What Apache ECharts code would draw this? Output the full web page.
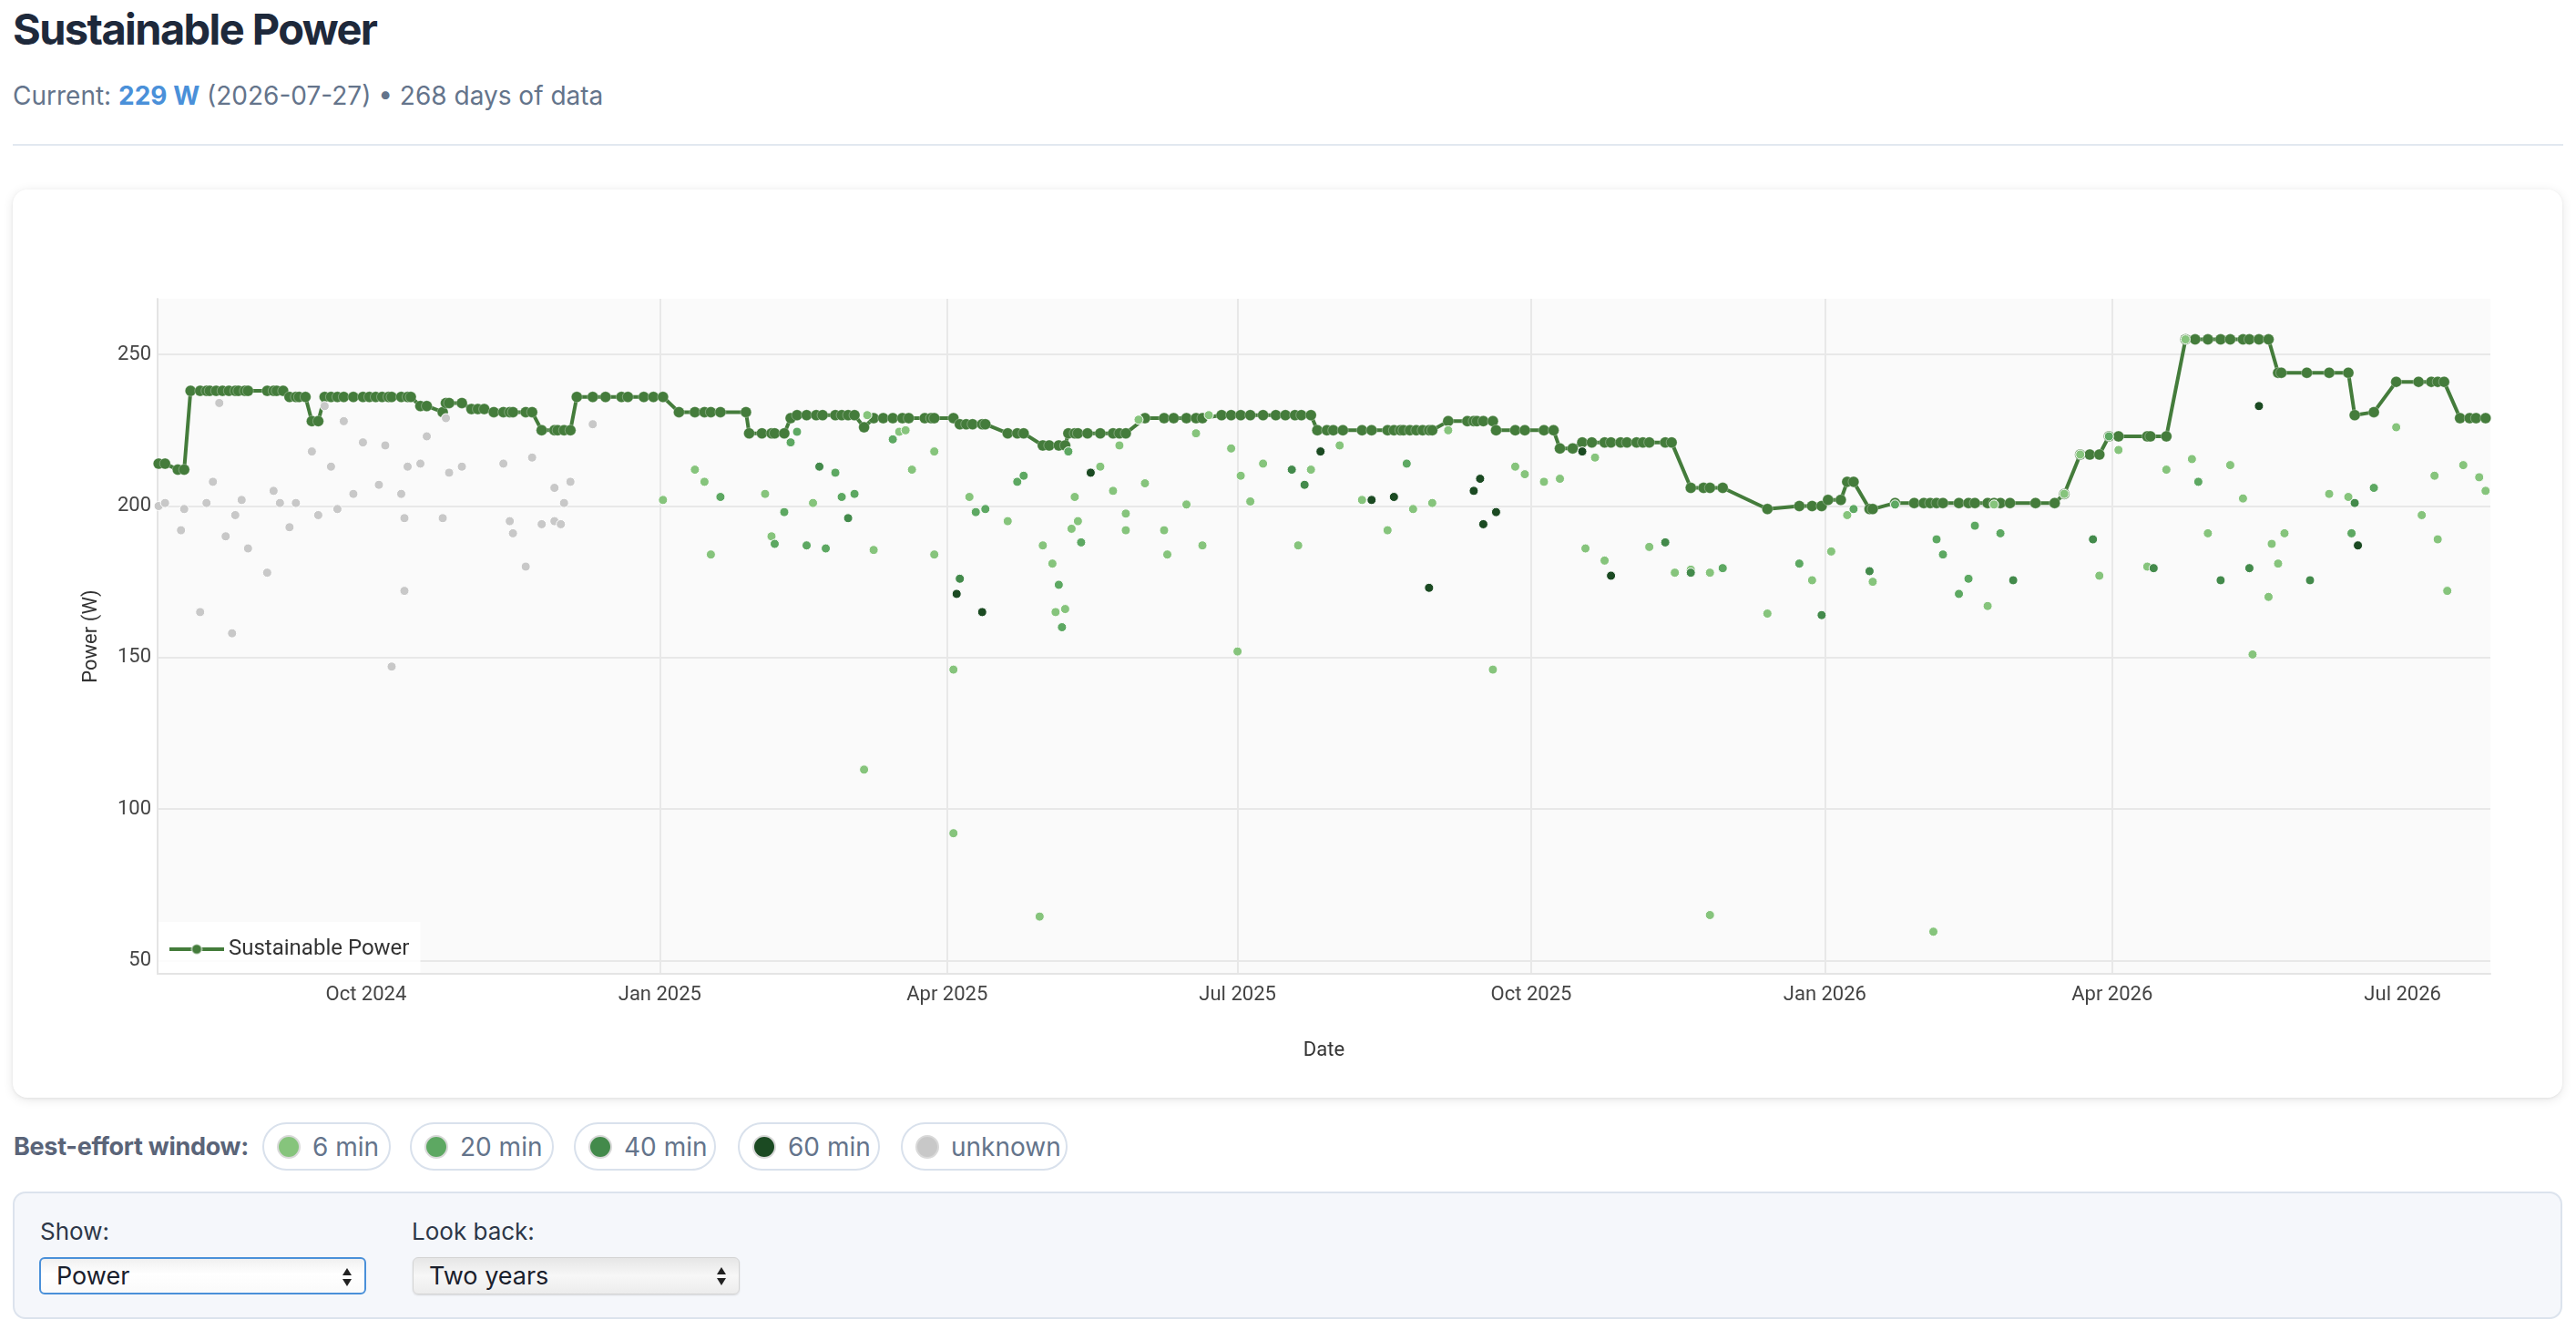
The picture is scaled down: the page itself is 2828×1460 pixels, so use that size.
<!DOCTYPE html>
<html>
<head>
<meta charset="utf-8">
<script src="https://cdn.jsdelivr.net/npm/echarts@6/dist/echarts.min.js"></script>
<style>
html,body{margin:0;padding:0;background:#fff;width:2828px;height:1460px;overflow:hidden;font-family:Inter,'Noto Sans',sans-serif;}
.abs{position:absolute;}
#title{left:14px;top:5px;margin:0;font-size:47px;line-height:54px;font-weight:700;color:#1e293b;letter-spacing:-1.6px;white-space:nowrap;}
#sub{left:14px;top:88px;font-size:28px;line-height:34px;color:#64748b;white-space:nowrap;}
#sub b{color:#4a90d9;font-weight:700;}
#rule{left:14px;top:158px;width:2800px;height:2px;background:#e2e8f0;}
#card{left:14px;top:208px;width:2799px;height:997px;background:#fff;border-radius:16px;box-shadow:0 2px 12px rgba(0,0,0,0.10),0 1px 3px rgba(0,0,0,0.06);}
#chart{position:absolute;left:0;top:0;width:2799px;height:997px;}
#chipLbl{left:15px;top:1242px;font-size:27px;line-height:34px;font-weight:700;color:#5a6478;letter-spacing:-0.3px;white-space:nowrap;}
.chip{position:absolute;top:1232px;box-sizing:border-box;height:53px;border:2px solid #d9e1ec;border-radius:27px;background:#fff;display:flex;align-items:center;padding:0 0 0 14px;font-size:28px;color:#64748b;white-space:nowrap;}
.chip i{display:inline-block;width:22px;height:22px;border-radius:50%;border:2px solid #d9d9d9;margin-right:13px;}
#panel{left:14px;top:1308px;width:2799px;height:140px;box-sizing:border-box;background:#f5f7fb;border:2px solid #dce3ed;border-radius:14px;}
.plbl{font-size:26px;line-height:30px;color:#2d3748;}
.sel{box-sizing:border-box;height:41px;width:359px;border-radius:6px;font-size:27px;color:#1a202c;display:flex;align-items:center;padding-left:17px;}
.sel .arr{position:absolute;right:14px;top:9px;width:10px;height:22px;}
.sel .arr:before,.sel .arr:after{content:'';position:absolute;left:0;border-left:5px solid transparent;border-right:5px solid transparent;}
.sel .arr:before{top:1px;border-bottom:8px solid #222;}
.sel .arr:after{bottom:1px;border-top:8px solid #222;}
#sel1{left:43px;top:1380px;border:2px solid #4a90d9;background:linear-gradient(#f0f0f0,#ffffff 45%,#fafafa);}
#sel2{left:453px;top:1380px;border:1px solid #d4d4d4;background:linear-gradient(#e6e6e6,#f7f7f7 50%,#ececec);box-shadow:0 1px 2px rgba(0,0,0,0.12);}
</style>
</head>
<body>
<h1 id="title" class="abs">Sustainable Power</h1>
<div id="sub" class="abs">Current: <b>229 W</b> (2026-07-27) • 268 days of data</div>
<div id="rule" class="abs"></div>
<div id="card" class="abs"><div id="chart"></div></div>
<div id="chipLbl" class="abs">Best-effort window:</div>
<div id="panel" class="abs"></div>
<div class="abs plbl" style="left:44px;top:1337px;">Show:</div>
<div class="abs plbl" style="left:452px;top:1337px;">Look back:</div>
<div id="sel1" class="abs sel">Power<span class="arr"></span></div>
<div id="sel2" class="abs sel">Two years<span class="arr"></span></div>
<script>
// ---------- DATA ----------
const sustainablePower = [
['2024-07-28',214],['2024-07-30',214],['2024-08-03',212],['2024-08-05',212],['2024-08-07',238],
['2024-08-10',238],['2024-08-12',238],['2024-08-13',238],['2024-08-15',238],['2024-08-17',238],
['2024-08-19',238],['2024-08-21',238],['2024-08-22',238],['2024-08-24',238],['2024-08-25',238],
['2024-08-31',238],['2024-09-02',238],['2024-09-03',238],['2024-09-05',238],['2024-09-07',236],
['2024-09-09',236],['2024-09-10',236],['2024-09-12',236],['2024-09-14',228],['2024-09-16',228],
['2024-09-18',236],['2024-09-20',236],['2024-09-22',236],['2024-09-24',236],['2024-09-27',236],
['2024-09-30',236],['2024-10-02',236],['2024-10-04',236],['2024-10-06',236],['2024-10-08',236],
['2024-10-09',236],['2024-10-12',236],['2024-10-14',236],['2024-10-15',236],['2024-10-18',233],
['2024-10-20',233],['2024-10-25',231],['2024-10-26',234],['2024-10-27',234],['2024-10-31',234],
['2024-11-03',232],['2024-11-05',232],['2024-11-07',232],['2024-11-10',231],['2024-11-13',231],
['2024-11-15',231],['2024-11-16',231],['2024-11-20',231],['2024-11-22',231],['2024-11-25',225],
['2024-11-29',225],['2024-11-30',225],['2024-12-02',225],['2024-12-04',225],['2024-12-06',236],
['2024-12-11',236],['2024-12-15',236],['2024-12-20',236],['2024-12-22',236],['2024-12-27',236],
['2024-12-30',236],['2025-01-02',236],['2025-01-07',231],['2025-01-12',231],['2025-01-15',231],
['2025-01-17',231],['2025-01-20',231],['2025-01-28',231],['2025-01-29',224],['2025-02-02',224],
['2025-02-05',224],['2025-02-06',224],['2025-02-09',224],['2025-02-11',229],['2025-02-13',230],
['2025-02-16',230],['2025-02-19',230],['2025-02-21',230],['2025-02-25',230],['2025-02-27',230],
['2025-03-01',230],['2025-03-03',230],['2025-03-06',226],['2025-03-09',229],['2025-03-12',229],
['2025-03-15',229],['2025-03-18',229],['2025-03-20',229],['2025-03-25',229],['2025-03-27',229],
['2025-03-28',229],['2025-04-03',229],['2025-04-05',227],['2025-04-07',227],['2025-04-09',227],
['2025-04-12',227],['2025-04-13',227],['2025-04-20',224],['2025-04-23',224],['2025-04-25',224],
['2025-05-01',220],['2025-05-03',220],['2025-05-06',220],['2025-05-08',220],['2025-05-09',224],
['2025-05-11',224],['2025-05-12',224],['2025-05-15',224],['2025-05-19',224],['2025-05-23',224],
['2025-05-25',224],['2025-05-27',224],['2025-06-02',229],['2025-06-08',229],['2025-06-11',229],
['2025-06-15',229],['2025-06-18',229],['2025-06-20',229],['2025-06-26',230],['2025-06-29',230],
['2025-07-02',230],['2025-07-05',230],['2025-07-09',230],['2025-07-13',230],['2025-07-16',230],
['2025-07-19',230],['2025-07-21',230],['2025-07-24',230],['2025-07-26',225],['2025-07-29',225],
['2025-07-31',225],['2025-08-03',225],['2025-08-09',225],['2025-08-12',225],['2025-08-17',225],
['2025-08-19',225],['2025-08-21',225],['2025-08-22',225],['2025-08-24',225],['2025-08-26',225],
['2025-08-28',225],['2025-08-30',225],['2025-08-31',225],['2025-09-05',228],['2025-09-11',228],
['2025-09-13',228],['2025-09-14',228],['2025-09-16',228],['2025-09-19',228],['2025-09-20',225],
['2025-09-26',225],['2025-09-29',225],['2025-10-05',225],['2025-10-08',225],['2025-10-10',219],
['2025-10-14',219],['2025-10-17',221],['2025-10-20',221],['2025-10-24',221],['2025-10-26',221],
['2025-10-29',221],['2025-10-31',221],['2025-11-03',221],['2025-11-05',221],['2025-11-07',221],
['2025-11-12',221],['2025-11-14',221],['2025-11-20',206],['2025-11-24',206],['2025-11-26',206],
['2025-11-30',206],['2025-12-14',199],['2025-12-24',200],['2025-12-28',200],['2025-12-31',200],
['2026-01-02',202],['2026-01-06',202],['2026-01-08',208],['2026-01-10',208],['2026-01-15',199],
['2026-01-16',199],['2026-01-23',201],['2026-01-29',201],['2026-02-01',201],['2026-02-03',201],
['2026-02-05',201],['2026-02-07',201],['2026-02-12',201],['2026-02-15',201],['2026-02-17',201],
['2026-02-21',201],['2026-02-23',201],['2026-02-25',201],['2026-02-28',201],['2026-03-08',201],
['2026-03-14',201],['2026-03-17',204],['2026-03-22',217],['2026-03-25',217],['2026-03-28',217],
['2026-03-31',223],['2026-04-03',223],['2026-04-12',223],['2026-04-13',223],['2026-04-18',223],
['2026-04-24',255],['2026-04-27',255],['2026-05-01',255],['2026-05-05',255],['2026-05-08',255],
['2026-05-12',255],['2026-05-14',255],['2026-05-17',255],['2026-05-20',255],['2026-05-23',244],
['2026-05-24',244],['2026-06-01',244],['2026-06-08',244],['2026-06-14',244],['2026-06-16',230],
['2026-06-22',231],['2026-06-29',241],['2026-07-06',241],['2026-07-10',241],['2026-07-12',241],
['2026-07-14',241],['2026-07-19',229],['2026-07-22',229],['2026-07-24',229],['2026-07-27',229]
];

const effortUnknown = [
['2024-07-28',200],['2024-07-30',201],['2024-08-04',192],['2024-08-05',199],['2024-08-10',165],
['2024-08-12',201],['2024-08-14',208],['2024-08-16',234],['2024-08-18',190],['2024-08-20',158],
['2024-08-21',197],['2024-08-23',202],['2024-08-25',186],['2024-08-31',178],['2024-09-02',205],
['2024-09-04',201],['2024-09-07',193],['2024-09-09',201],['2024-09-14',218],['2024-09-16',197],
['2024-09-18',233],['2024-09-20',213],['2024-09-22',199],['2024-09-24',228],['2024-09-27',204],
['2024-09-30',221],['2024-10-05',207],['2024-10-07',220],['2024-10-09',147],['2024-10-12',204],
['2024-10-13',196],['2024-10-13',172],['2024-10-14',213],['2024-10-18',214],['2024-10-20',223],
['2024-10-25',196],['2024-10-26',229],['2024-10-27',211],['2024-10-31',213],['2024-11-13',214],
['2024-11-15',195],['2024-11-16',191],['2024-11-20',180],['2024-11-22',216],['2024-11-25',194],
['2024-11-29',206],['2024-11-29',195],['2024-12-01',194],['2024-12-02',201],['2024-12-04',208],
['2024-12-11',227]
];

const effort6 = [
['2025-01-02',202],['2025-01-12',212],['2025-01-15',208],['2025-01-17',184],['2025-02-03',204],
['2025-02-05',190],['2025-02-18',201],['2025-03-06',113],['2025-03-07',230],['2025-03-09',185.5],
['2025-03-17',224.5],['2025-03-19',225],['2025-03-21',212],['2025-03-28',218],['2025-03-28',184],
['2025-04-03',92],['2025-04-03',146],['2025-04-08',203],['2025-04-20',195],['2025-04-30',64.5],
['2025-05-01',187],['2025-05-04',181],['2025-05-05',165],['2025-05-08',166],['2025-05-10',192.5],
['2025-05-11',203],['2025-05-12',195],['2025-05-19',213],['2025-05-23',205],['2025-05-25',220],
['2025-05-27',197.5],['2025-05-27',192],['2025-05-31',228.5],['2025-06-02',207.5],['2025-06-08',192],
['2025-06-09',184],['2025-06-15',200.5],['2025-06-18',224],['2025-06-20',187],['2025-06-22',230],
['2025-06-29',219],['2025-07-01',152],['2025-07-02',210],['2025-07-05',201.5],['2025-07-09',214],
['2025-07-20',187],['2025-07-24',212],['2025-08-02',220],['2025-08-09',202],['2025-08-17',192],
['2025-08-25',199],['2025-08-31',201],['2025-09-05',225],['2025-09-19',146],['2025-09-26',213],
['2025-09-29',210.5],['2025-10-05',208],['2025-10-10',209],['2025-10-18',186],['2025-10-21',216],
['2025-10-24',182],['2025-11-07',186.5],['2025-11-15',178],['2025-11-20',179],['2025-11-26',65],
['2025-11-26',178],['2025-12-14',164.5],['2025-12-28',175.5],['2026-01-03',185],['2026-01-08',197],
['2026-01-16',175],['2026-02-04',59.5],['2026-02-21',167],['2026-02-23',200.5],['2026-03-17',204],
['2026-03-22',217],['2026-03-28',177],['2026-04-03',218.5],['2026-04-12',180],['2026-04-18',212],
['2026-04-24',255],['2026-04-26',215.5],['2026-05-01',191],['2026-05-08',213.5],['2026-05-12',202.5],
['2026-05-15',151],['2026-05-20',170],['2026-05-21',187.5],['2026-05-23',181],['2026-05-25',191],
['2026-06-08',204],['2026-06-14',203],['2026-06-29',226],['2026-07-07',197],['2026-07-11',210],
['2026-07-12',189],['2026-07-15',172],['2026-07-20',213.5],['2026-07-25',209.5],['2026-07-27',205]
];

const effort20 = [
['2025-01-20',203],['2025-02-06',187.5],['2025-02-09',198],['2025-02-11',221],['2025-02-13',224.5],
['2025-02-16',187],['2025-02-22',186],['2025-02-25',211],['2025-02-27',203],['2025-03-03',204],
['2025-03-15',222],['2025-04-10',198],['2025-04-13',199],['2025-04-23',208],['2025-04-25',210],
['2025-05-06',174],['2025-05-07',160],['2025-05-09',218],['2025-05-13',188],['2025-08-23',214],
['2025-11-30',179.5],['2025-12-24',181],['2026-01-10',199],['2026-01-23',200.5],['2026-02-05',189],
['2026-02-07',184],['2026-02-12',171],['2026-02-15',176],['2026-02-17',193.5],['2026-02-25',191],
['2026-03-31',223],['2026-04-28',208],['2026-06-15',191],['2026-06-22',206]
];

const effort40 = [
['2025-02-20',213],['2025-03-01',196],['2025-04-05',176],['2025-07-18',212],['2025-07-22',207],
['2025-11-12',188],['2025-11-20',178],['2025-12-31',164],['2026-01-15',178.5],['2026-03-01',175.5],
['2026-03-26',189],['2026-04-14',179.5],['2026-05-05',175.5],['2026-05-14',179.5],['2026-06-02',175.5],
['2026-06-16',201]
];

const effort60 = [
['2025-04-04',171],['2025-04-12',165],['2025-05-16',211],['2025-07-27',218],['2025-08-12',202],
['2025-08-19',203],['2025-08-30',173],['2025-09-13',205],['2025-09-15',209],['2025-09-16',194],
['2025-09-20',198],['2025-10-17',218],['2025-10-26',177],['2026-05-17',233],['2026-06-17',187]
];

const windowNames  = ['6 min', '20 min', '40 min', '60 min', 'unknown'];
const windowColors = ['#86c47c', '#5da862', '#438a4b', '#1b4a22', '#c8c8c8'];
const xTickDates = ['2024-10-01','2025-01-01','2025-04-01','2025-07-01','2025-10-01','2026-01-01','2026-04-01','2026-07-01'];
const monthNames = ['Jan','Feb','Mar','Apr','May','Jun','Jul','Aug','Sep','Oct','Nov','Dec'];

// ---------- chips ----------
const chipLeft = [288, 450, 630, 810, 989];
const chipWidth = [141, 158, 156, 156, 183];
windowNames.forEach((n, i) => {
  const s = document.createElement('span');
  s.className = 'chip';
  s.style.left = chipLeft[i] + 'px';
  s.style.width = chipWidth[i] + 'px';
  s.innerHTML = '<i style="background:' + windowColors[i] + '"></i>' + n;
  document.body.appendChild(s);
});

// ---------- chart ----------
const toTs = s => {
  const [d, t] = s.split('T');
  const p = d.split('-').map(Number);
  const h = t ? Number(t.split(':')[0]) : 0;
  return new Date(p[0], p[1] - 1, p[2], h).getTime();
};
const asPts = arr => arr.map(r => [toTs(r[0]), r[1]]);
const xTicks = xTickDates.map(toTs);
const chart = echarts.init(document.getElementById('chart'), null, { renderer: 'canvas' });

const effortGroups = [effortUnknown, effort6, effort20, effort40, effort60];
const effortColorIdx = [4, 0, 1, 2, 3];
const scatterSeries = effortGroups.map((g, k) => ({
  name: windowNames[effortColorIdx[k]],
  type: 'scatter',
  data: asPts(g),
  symbol: 'circle',
  symbolSize: 10,
  itemStyle: { color: windowColors[effortColorIdx[k]], borderColor: '#ffffff', borderWidth: 1, opacity: 1 },
  emphasis: { disabled: true },
  silent: true,
  z: 3
}));

const font = 'Roboto, "Liberation Sans", sans-serif';
chart.setOption({
  animation: false,
  textStyle: { fontFamily: font },
  grid: { left: 159, top: 120, width: 2561, height: 741, show: true, backgroundColor: '#fafafa', borderWidth: 0, containLabel: false, outerBoundsMode: 'none' },
  legend: {
    data: ['Sustainable Power'],
    left: 160, top: 804,
    backgroundColor: 'rgba(255,255,255,0.85)',
    padding: [18, 12, 14, 10],
    itemWidth: 60, itemHeight: 14,
    lineStyle: { width: 4 },
    textStyle: { fontSize: 24, color: '#333', fontFamily: font },
    selectedMode: false
  },
  xAxis: {
    type: 'value',
    min: toTs('2024-07-27T16'),
    max: toTs('2026-07-28T12'),
    name: 'Date',
    nameLocation: 'middle',
    nameGap: 73,
    nameTextStyle: { fontSize: 22, color: '#333', fontFamily: font },
    axisLine: { show: true, onZero: false, lineStyle: { color: '#e4e4e4', width: 2 } },
    axisTick: { show: false, customValues: xTicks },
    axisLabel: {
      customValues: xTicks,
      margin: 12,
      fontSize: 22, color: '#444', fontFamily: font,
      formatter: v => { const d = new Date(v); return monthNames[d.getMonth()] + ' ' + d.getFullYear(); }
    },
    splitLine: { show: true, showMinLine: false, showMaxLine: false, lineStyle: { color: '#e8e8e8', width: 2 } }
  },
  yAxis: {
    type: 'value',
    min: 45.6, max: 268.4,
    name: 'Power (W)',
    nameLocation: 'middle',
    nameGap: 62,
    nameTextStyle: { fontSize: 22, color: '#333', fontFamily: font },
    axisLine: { show: true, onZero: false, lineStyle: { color: '#e4e4e4', width: 2 } },
    axisTick: { show: false },
    axisLabel: {
      margin: 7, fontSize: 22, color: '#444', fontFamily: font,
      showMinLabel: false, showMaxLabel: false,
      formatter: v => (Math.abs(v % 50) < 1e-6 ? String(v) : '')
    },
    splitLine: { show: true, showMinLine: false, showMaxLine: false, lineStyle: { color: '#e8e8e8', width: 2 } }
  },
  series: [{
    name: 'Sustainable Power',
    type: 'line',
    data: asPts(sustainablePower),
    symbol: 'circle',
    symbolSize: 12,
    showSymbol: true,
    showAllSymbol: true,
    lineStyle: { color: '#447c3b', width: 4 },
    itemStyle: { color: '#447c3b', borderColor: 'rgba(255,255,255,0.5)', borderWidth: 0.6 },
    emphasis: { disabled: true },
    silent: true,
    z: 2
  }].concat(scatterSeries)
});
</script>
</body>
</html>
